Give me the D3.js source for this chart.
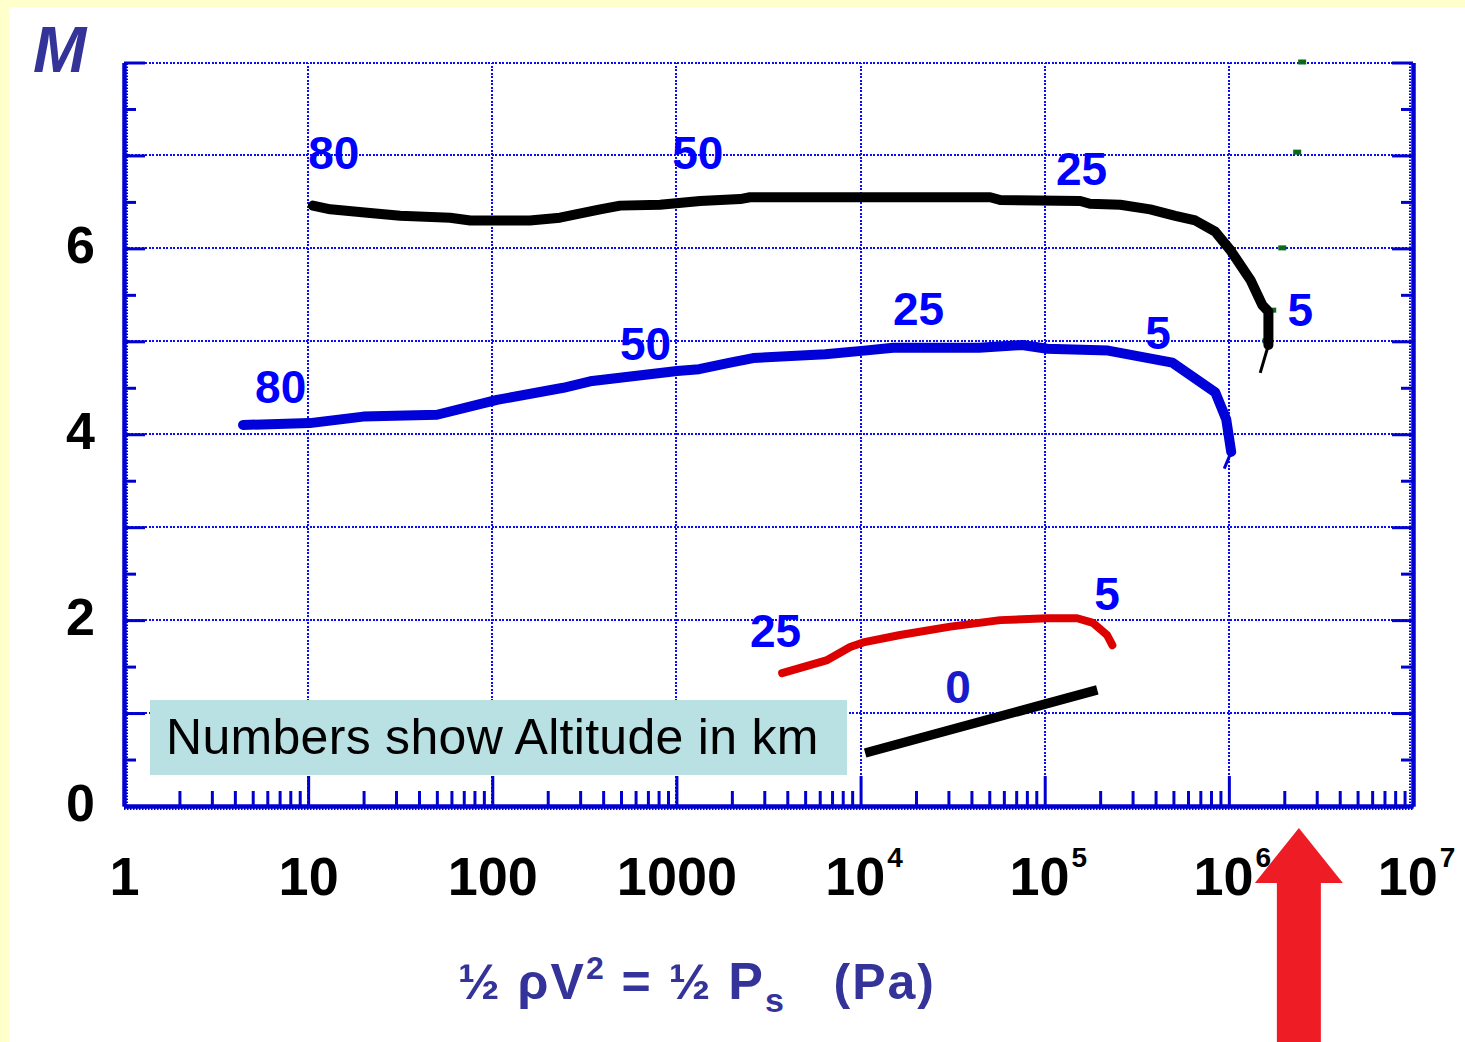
<!DOCTYPE html>
<html lang="en">
<head>
<meta charset="UTF-8">
<title>Mach vs dynamic pressure</title>
<script src="https://d3js.org/d3.v7.min.js"></script>
<style>
  body { margin: 0; }
  svg text { font-family: "Liberation Sans", Arial, sans-serif; }
</style>
</head>
<body>
<script>
// ---- data ----
// black curve (altitudes 80 -> 5 km)
var blackP = [10.6, 13.2, 21.7, 31.6, 59, 76, 160, 233, 385, 495, 815, 1345, 2220, 2510, 12800, 50600, 57300, 156000, 176000, 257000, 374000, 512000, 657000, 843000, 1.02e6, 1.31e6, 1.52e6, 1.64e6, 1.64e6];
var blackM = [6.46, 6.42, 6.38, 6.35, 6.33, 6.30, 6.30, 6.33, 6.42, 6.46, 6.47, 6.51, 6.53, 6.55, 6.55, 6.55, 6.52, 6.51, 6.48, 6.47, 6.42, 6.35, 6.30, 6.18, 5.98, 5.66, 5.39, 5.32, 4.96];
var blackTailP = [1.64e6, 1.48e6];
var blackTailM = [4.96, 4.66];

// blue curve
var blueP = [4.43, 10.2, 19.9, 50.1, 106, 243, 340, 1009, 1328, 1958, 2611, 6430, 10470, 15040, 44060, 75500, 103000, 221000, 493000, 844000, 968000, 1.03e6];
var blueM = [4.10, 4.12, 4.19, 4.21, 4.37, 4.50, 4.57, 4.68, 4.70, 4.77, 4.82, 4.86, 4.90, 4.93, 4.93, 4.96, 4.92, 4.90, 4.77, 4.45, 4.16, 3.81];
var blueTailP = [1.03e6, 9.44e5];
var blueTailM = [3.81, 3.63];

// red curve
var redP = [3750, 6590, 8780, 10330, 16400, 30700, 57300, 103000, 150000, 183000, 218000, 233000];
var redM = [1.43, 1.57, 1.71, 1.76, 1.84, 1.93, 2.00, 2.02, 2.02, 1.97, 1.84, 1.73];

// sea level line (0 km)
var zeroP = [10590, 193000];
var zeroM = [0.57, 1.25];

// small green dashes near the right edge
var greenP = [2.5e6, 2.35e6, 1.95e6, 1.72e6, 1.6e6];
var greenM = [8.0, 7.03, 6.0, 5.33, 5.0];

// altitude labels: text, pressure, Mach (left/baseline)
var altText = ["80", "50", "25", "5", "80", "50", "25", "5", "25", "5", "0"];
var altP = [10, 948, 115000, 2.08e6, 5.15, 494, 15000, 352000, 2510, 186000, 28800];
var altM = [6.85, 6.85, 6.68, 5.17, 4.34, 4.80, 5.18, 4.92, 1.71, 2.11, 1.11];

// ticks
var decades = [1, 10, 100, 1000, 1e4, 1e5, 1e6, 1e7];
var decadeLabels = ["1", "10", "100", "1000", "10|4", "10|5", "10|6", "10|7"];
var yMajor = [0, 1, 2, 3, 4, 5, 6, 7, 8];
var yMinor = [0.5, 1.5, 2.5, 3.5, 4.5, 5.5, 6.5, 7.5];
var yLabels = [0, 2, 4, 6];

var width = 1465, height = 1042;
var axisBlue = "#0000d0";

var svg = d3.select("body").append("svg")
    .attr("width", width).attr("height", height);

svg.append("rect").attr("width", width).attr("height", height).attr("fill", "#ffffcc");
svg.append("rect").attr("x", 9).attr("y", 7).attr("width", width - 9).attr("height", height - 7).attr("fill", "#ffffff");

var x = d3.scaleLog().domain([1, 1e7]).range([124, 1413]);
var y = d3.scaleLinear().domain([0, 8]).range([806, 62.5]);

// minor log ticks 2..9 in each decade
var xMinor = [];
decades.slice(0, -1).forEach(function(d) {
  for (var k = 2; k <= 9; k++) xMinor.push(d * k);
});

// dotted grid
var grid = svg.append("g").attr("stroke", "#0a0aff").attr("stroke-width", 2)
    .attr("stroke-dasharray", "2,1.5").attr("shape-rendering", "crispEdges");
grid.selectAll("line.h").data(yMajor.slice(1)).enter().append("line")
    .attr("x1", x(1)).attr("x2", x(1e7))
    .attr("y1", function(d) { return Math.round(y(d)); }).attr("y2", function(d) { return Math.round(y(d)); });
grid.selectAll("line.v").data(decades.slice(1, -1)).enter().append("line")
    .attr("y1", y(0)).attr("y2", y(8))
    .attr("x1", function(d) { return Math.round(x(d)); }).attr("x2", function(d) { return Math.round(x(d)); });

// legend box
svg.append("rect").attr("x", 150).attr("y", 700).attr("width", 697).attr("height", 75).attr("fill", "#b9e0e3");
svg.append("text").attr("x", 166).attr("y", 754).attr("font-size", 50).attr("letter-spacing", 0.3).attr("fill", "#000")
    .text("Numbers show Altitude in km");

// axes
function styleAxis(g) {
  g.selectAll(".domain").attr("stroke", axisBlue).attr("stroke-width", 4);
  g.selectAll(".tick line").attr("stroke", axisBlue).attr("stroke-width", 3);
}

svg.append("g").attr("transform", "translate(" + x(1) + ",0)")
    .call(d3.axisLeft(y).tickValues(yMinor).tickSize(-12).tickSizeOuter(0).tickFormat(""))
    .call(styleAxis);
svg.append("g").attr("transform", "translate(" + x(1) + ",0)")
    .call(d3.axisLeft(y).tickValues(yMajor).tickSize(-21).tickSizeOuter(0).tickPadding(29)
      .tickFormat(function(d) { return yLabels.indexOf(d) >= 0 ? d : ""; }))
    .call(styleAxis)
    .call(function(g) {
      g.selectAll("text").attr("font-size", 52).attr("font-weight", "bold").attr("fill", "#000")
        .attr("font-family", "Liberation Sans, Arial, sans-serif").attr("dy", "0.27em");
    });

svg.append("g").attr("transform", "translate(" + x(1e7) + ",0)")
    .call(d3.axisRight(y).tickValues(yMinor).tickSize(-12).tickSizeOuter(0).tickFormat(""))
    .call(styleAxis);
svg.append("g").attr("transform", "translate(" + x(1e7) + ",0)")
    .call(d3.axisRight(y).tickValues(yMajor).tickSize(-21).tickSizeOuter(0).tickFormat(""))
    .call(styleAxis);

svg.append("g").attr("transform", "translate(0," + y(0) + ")")
    .call(d3.axisBottom(x).tickValues(xMinor).tickSize(-15).tickSizeOuter(0).tickFormat(""))
    .call(styleAxis);
var xAx = svg.append("g").attr("transform", "translate(0," + y(0) + ")")
    .call(d3.axisBottom(x).tickValues(decades).tickSize(-30).tickSizeOuter(0).tickPadding(0)
      .tickFormat(function(d, i) { return ""; }))
    .call(styleAxis);
xAx.selectAll(".tick text").each(function(d, i) {
  var parts = decadeLabels[i].split("|");
  var t = d3.select(this).attr("y", 89).attr("dy", 0).attr("fill", "#000")
      .attr("font-size", 54).attr("font-weight", "bold")
      .attr("font-family", "Liberation Sans, Arial, sans-serif");
  t.text(parts[0]);
  if (parts[1]) {
    t.attr("dx", 3);
    t.append("tspan").attr("dy", -28).attr("dx", 2).attr("font-size", 28).text(parts[1]);
  }
});

// teeth along the axis lines
var teeth = svg.append("g").attr("stroke", axisBlue).attr("stroke-width", 2).attr("stroke-dasharray", "1.5,1.5");
teeth.append("line").attr("x1", x(1) + 3).attr("x2", x(1) + 3).attr("y1", y(0)).attr("y2", y(8));
teeth.append("line").attr("x1", x(1e7) - 3).attr("x2", x(1e7) - 3).attr("y1", y(0)).attr("y2", y(8));
teeth.append("line").attr("y1", y(0) + 3).attr("y2", y(0) + 3).attr("x1", x(1)).attr("x2", x(1e7));

// curves
var line = d3.line()
    .x(function(d) { return x(d[0]); })
    .y(function(d) { return y(d[1]); });

function drawCurve(ps, ms, color, w, cap) {
  svg.append("path")
      .datum(d3.zip(ps, ms))
      .attr("d", line)
      .attr("fill", "none")
      .attr("stroke", color)
      .attr("stroke-width", w)
      .attr("stroke-linejoin", "round")
      .attr("stroke-linecap", cap || "round");
}

svg.selectAll("rect.green").data(d3.zip(greenP, greenM)).enter().append("rect")
    .attr("x", function(d) { return x(d[0]) - 4; })
    .attr("y", function(d) { return y(d[1]) - 3; })
    .attr("width", 8).attr("height", 5)
    .attr("fill", "#0a6a1a");

drawCurve(blackP, blackM, "#000", 10);
drawCurve(blackTailP, blackTailM, "#000", 3, "butt");
drawCurve(blueP, blueM, "#0000d8", 10);
drawCurve(blueTailP, blueTailM, "#0000d8", 3, "butt");
drawCurve(redP, redM, "#dd0000", 8);
drawCurve(zeroP, zeroM, "#000", 9.5, "butt");

// altitude labels
svg.selectAll("text.alt").data(altText).enter().append("text")
    .attr("x", function(d, i) { return x(altP[i]); })
    .attr("y", function(d, i) { return y(altM[i]); })
    .attr("font-size", 46).attr("font-weight", "bold")
    .attr("fill", function(d, i) { return d === "0" ? "#1a1acc" : "#0000ff"; })
    .text(function(d) { return d; });

// M label
svg.append("text").attr("x", 33).attr("y", 72)
    .attr("font-size", 64).attr("font-weight", "bold").attr("font-style", "italic")
    .attr("fill", "#333399").text("M");

// x axis title
var title = svg.append("text").attr("x", 697).attr("y", 999).attr("text-anchor", "middle")
    .attr("font-size", 50).attr("font-weight", "bold").attr("letter-spacing", 2)
    .attr("fill", "#333399").attr("xml:space", "preserve").style("white-space", "pre");
title.append("tspan").text("½ ρV");
title.append("tspan").attr("dy", -20).attr("font-size", 32).text("2");
title.append("tspan").attr("dy", 20).text(" = ½ ");
title.append("tspan").attr("font-size", 52).text("P");
title.append("tspan").attr("dy", 13).attr("font-size", 34).text("s");
title.append("tspan").attr("dy", -13).text("   (Pa)");

// red arrow under the axis
var ax = x(2.4e6);
var arrow = d3.path();
arrow.moveTo(ax, 828);
arrow.lineTo(ax + 44, 883);
arrow.lineTo(ax + 22, 883);
arrow.lineTo(ax + 22, height);
arrow.lineTo(ax - 22, height);
arrow.lineTo(ax - 22, 883);
arrow.lineTo(ax - 44, 883);
arrow.closePath();
svg.append("path").attr("d", arrow.toString()).attr("fill", "#ee1c25");
</script>
</body>
</html>
